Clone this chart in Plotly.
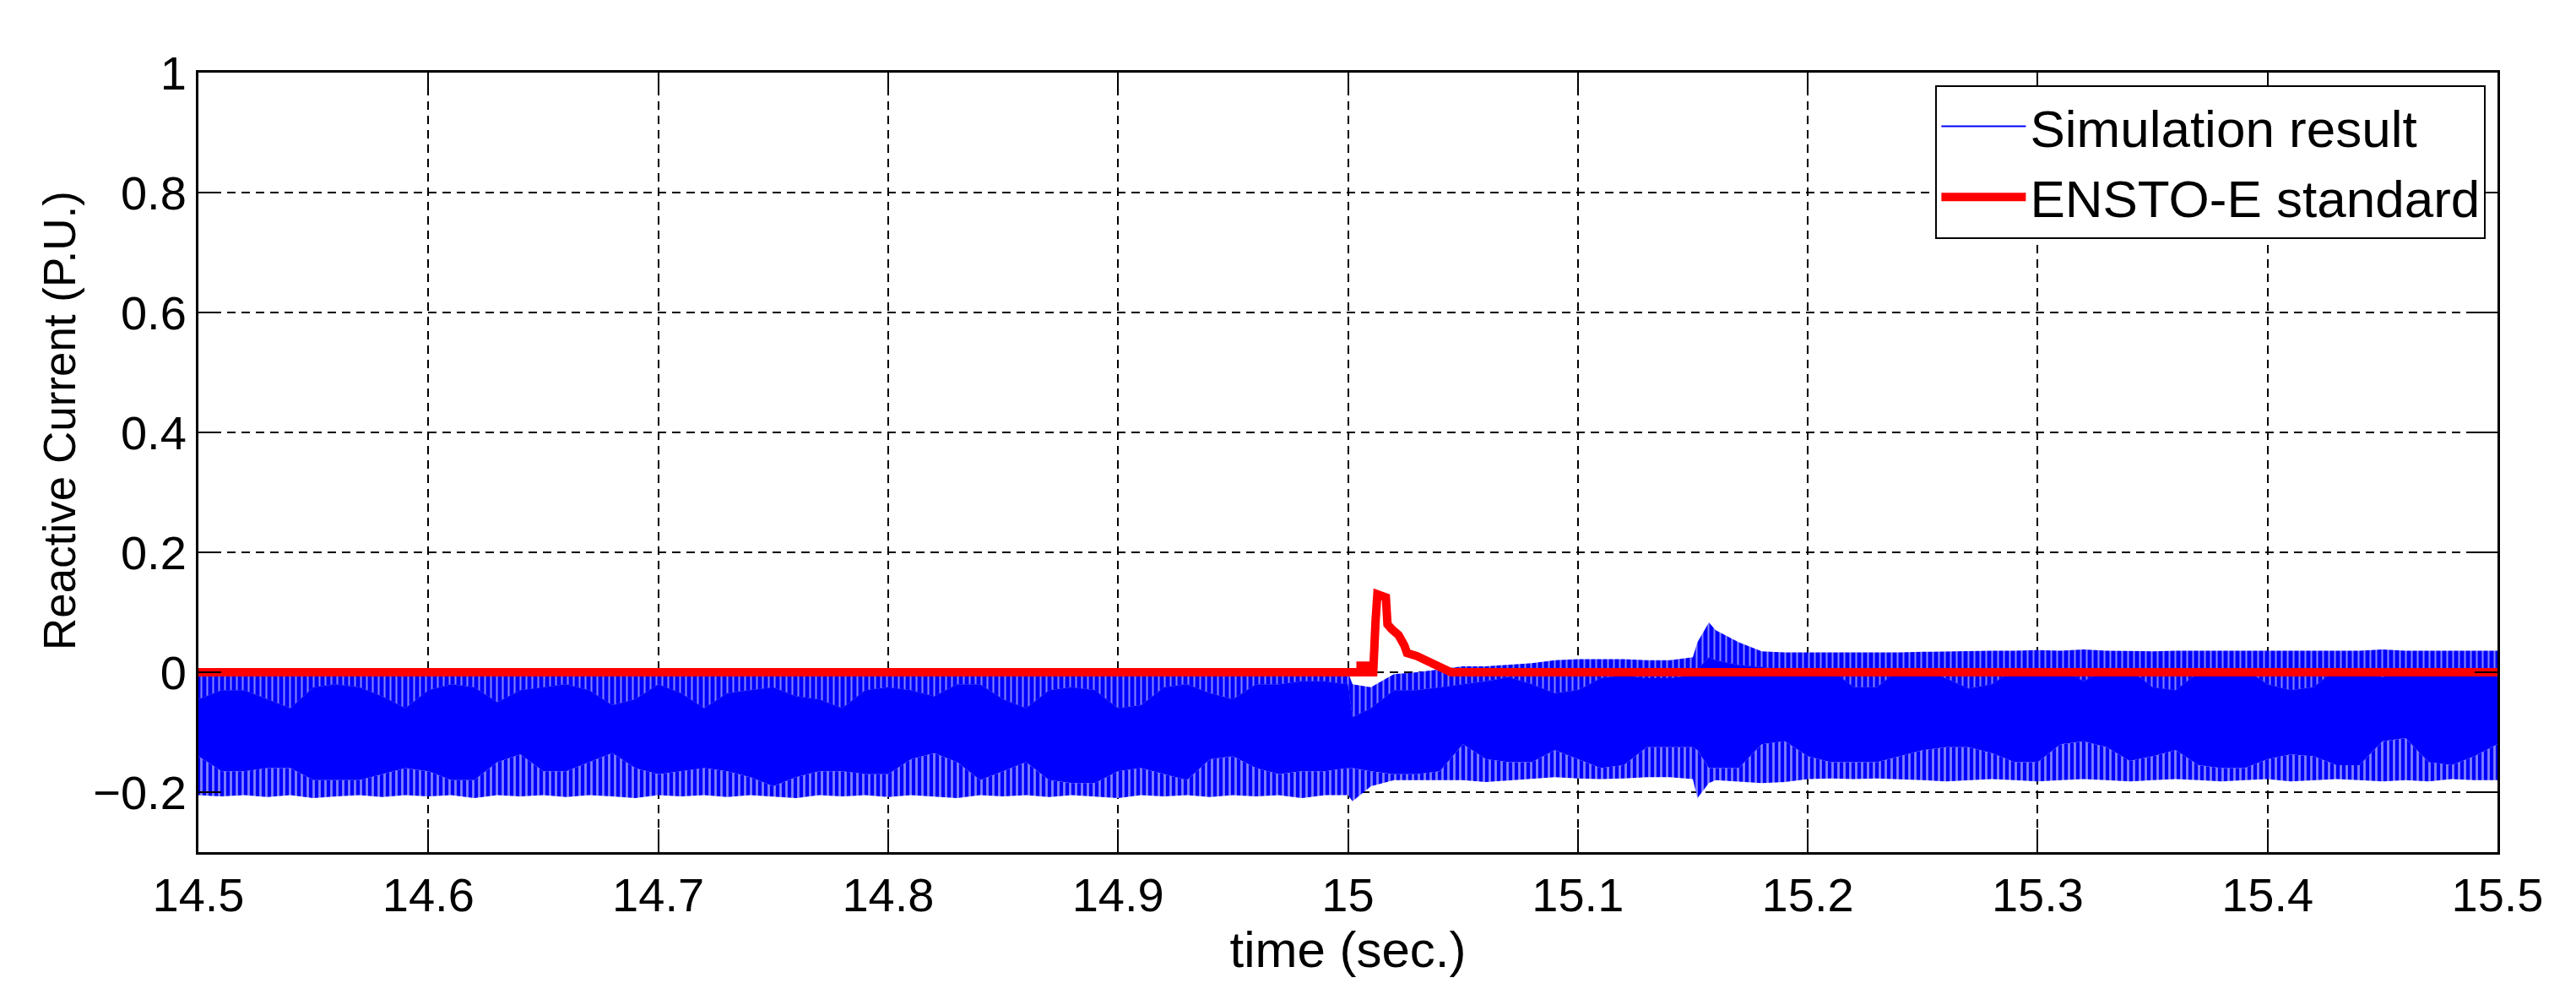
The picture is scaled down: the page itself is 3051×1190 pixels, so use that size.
import plotly.graph_objects as go

# ---- data ----
t = [14.50, 14.51, 14.52, 14.53, 14.54, 14.55, 14.56, 14.57, 14.58, 14.59,
     14.60, 14.61, 14.62, 14.63, 14.64, 14.65, 14.66, 14.67, 14.68, 14.69,
     14.70, 14.71, 14.72, 14.73, 14.74, 14.75, 14.76, 14.77, 14.78, 14.79,
     14.80, 14.81, 14.82, 14.83, 14.84, 14.85, 14.86, 14.87, 14.88, 14.89,
     14.90, 14.91, 14.92, 14.93, 14.94, 14.95, 14.96, 14.97, 14.98, 14.99,
     15.00, 15.002, 15.01, 15.02, 15.03, 15.04, 15.05, 15.06, 15.07, 15.08, 15.09,
     15.10, 15.11, 15.12, 15.13, 15.14, 15.15, 15.152, 15.157, 15.16, 15.17, 15.18, 15.19,
     15.20, 15.21, 15.22, 15.23, 15.24, 15.25, 15.26, 15.27, 15.28, 15.29,
     15.30, 15.31, 15.32, 15.33, 15.34, 15.35, 15.36, 15.37, 15.38, 15.39,
     15.40, 15.41, 15.42, 15.43, 15.44, 15.45, 15.46, 15.47, 15.48, 15.49,
     15.50]

# top of the blue trace (spike tips)
hi_outer = [0.0, 0.0, 0.0, 0.0, 0.0, 0.0, 0.0, 0.0, 0.0, 0.0,
            0.0, 0.0, 0.0, 0.0, 0.0, 0.0, 0.0, 0.0, 0.0, 0.0,
            0.0, 0.0, 0.0, 0.0, 0.0, 0.0, 0.0, 0.0, 0.0, 0.0,
            0.0, 0.0, 0.0, 0.0, 0.0, 0.0, 0.0, 0.0, 0.0, 0.0,
            0.0, 0.0, 0.0, 0.0, 0.0, 0.0, 0.0, 0.0, 0.0, 0.0,
            0.0, -0.02, -0.025, -0.003, 0.0, 0.005, 0.01, 0.01, 0.012, 0.015, 0.02,
            0.022, 0.022, 0.022, 0.02, 0.02, 0.025, 0.05, 0.083, 0.07, 0.05, 0.035, 0.033,
            0.033, 0.032, 0.033, 0.033, 0.033, 0.034, 0.035, 0.035, 0.036, 0.036,
            0.037, 0.036, 0.038, 0.036, 0.035, 0.035, 0.036, 0.036, 0.035, 0.036,
            0.036, 0.035, 0.036, 0.036, 0.036, 0.038, 0.036, 0.036, 0.036, 0.036,
            0.036]

# top edge of the solid part of the blue band
hi_inner = [-0.045, -0.03, -0.03, -0.045, -0.06, -0.025, -0.02, -0.025, -0.04, -0.06,
            -0.03, -0.02, -0.025, -0.05, -0.03, -0.025, -0.02, -0.03, -0.055, -0.045,
            -0.02, -0.035, -0.06, -0.035, -0.03, -0.025, -0.04, -0.045, -0.06, -0.03,
            -0.025, -0.03, -0.04, -0.02, -0.02, -0.045, -0.06, -0.03, -0.025, -0.03,
            -0.06, -0.055, -0.025, -0.02, -0.035, -0.045, -0.02, -0.02, -0.015, -0.015,
            -0.02, -0.075, -0.06, -0.03, -0.03, -0.025, -0.02, -0.015, -0.008, -0.02, -0.035,
            -0.03, -0.01, -0.005, -0.01, -0.01, -0.005, 0.005, 0.025, 0.02, 0.012, 0.008, 0.005,
            0.005, 0.005, -0.025, -0.025, 0.005, 0.005, -0.01, -0.027, -0.02, 0.005,
            0.006, 0.006, -0.015, 0.006, 0.005, -0.025, -0.03, 0.0, 0.006, 0.006,
            -0.02, -0.03, -0.025, 0.006, 0.006, -0.008, 0.006, 0.006, 0.006, 0.006,
            0.006]

# bottom edge of the solid part of the blue band
lo_inner = [-0.14, -0.165, -0.165, -0.16, -0.16, -0.18, -0.18, -0.18, -0.17, -0.16,
            -0.165, -0.18, -0.18, -0.15, -0.137, -0.165, -0.165, -0.15, -0.135, -0.16,
            -0.17, -0.165, -0.16, -0.165, -0.175, -0.19, -0.175, -0.165, -0.165, -0.17,
            -0.17, -0.145, -0.135, -0.15, -0.18, -0.165, -0.15, -0.18, -0.185, -0.185,
            -0.165, -0.16, -0.17, -0.18, -0.145, -0.14, -0.16, -0.17, -0.165, -0.165,
            -0.16, -0.16, -0.165, -0.17, -0.17, -0.165, -0.12, -0.145, -0.15, -0.15, -0.13,
            -0.145, -0.16, -0.155, -0.125, -0.125, -0.125, -0.13, -0.16, -0.16, -0.16, -0.12, -0.115,
            -0.14, -0.15, -0.15, -0.15, -0.14, -0.13, -0.125, -0.125, -0.135, -0.15,
            -0.15, -0.12, -0.115, -0.125, -0.148, -0.14, -0.13, -0.155, -0.16, -0.16,
            -0.145, -0.137, -0.14, -0.155, -0.155, -0.115, -0.11, -0.15, -0.155, -0.14,
            -0.12]

# bottom of the blue trace (spike tips)
lo_outer = [-0.205, -0.207, -0.205, -0.208, -0.205, -0.21, -0.207, -0.205, -0.208, -0.205,
            -0.207, -0.205, -0.21, -0.205, -0.207, -0.205, -0.208, -0.205, -0.207, -0.21,
            -0.205, -0.207, -0.205, -0.208, -0.205, -0.207, -0.21, -0.205, -0.207, -0.205,
            -0.208, -0.205, -0.207, -0.21, -0.205, -0.207, -0.205, -0.208, -0.205, -0.207,
            -0.21, -0.205, -0.207, -0.205, -0.208, -0.205, -0.207, -0.205, -0.21, -0.205,
            -0.205, -0.215, -0.19, -0.18, -0.18, -0.18, -0.18, -0.183, -0.18, -0.178, -0.175,
            -0.177, -0.178, -0.177, -0.175, -0.175, -0.178, -0.21, -0.185, -0.18, -0.182, -0.185, -0.183,
            -0.178, -0.177, -0.178, -0.177, -0.178, -0.18, -0.182, -0.18, -0.178, -0.18,
            -0.182, -0.18, -0.178, -0.18, -0.182, -0.18, -0.178, -0.18, -0.182, -0.18,
            -0.178, -0.182, -0.18, -0.178, -0.18, -0.182, -0.18, -0.182, -0.178, -0.18,
            -0.18]

# ENSTO-E standard (red)
red_t = [14.5, 15.0055, 15.0055, 15.0092, 15.0092, 15.011, 15.012, 15.0128, 15.0165,
         15.0172, 15.019, 15.022, 15.0245, 15.0257, 15.030, 15.0338, 15.0375, 15.040,
         15.0448, 15.5]
red_v = [0.0, 0.0, 0.011, 0.011, 0.0, 0.0, 0.085, 0.13, 0.125,
         0.08, 0.072, 0.062, 0.045, 0.032, 0.027, 0.02, 0.015, 0.008,
         0.0, 0.0]

x_ticks = [14.5, 14.6, 14.7, 14.8, 14.9, 15.0, 15.1, 15.2, 15.3, 15.4, 15.5]
x_labels = ["14.5", "14.6", "14.7", "14.8", "14.9", "15", "15.1", "15.2", "15.3", "15.4", "15.5"]
y_ticks = [-0.2, 0, 0.2, 0.4, 0.6, 0.8, 1]
y_labels = ["\u22120.2", "0", "0.2", "0.4", "0.6", "0.8", "1"]

BLUE = "#0000FF"
RED = "#FF0000"
FONT = "Liberation Sans, Arial, sans-serif"
FS = 56

fig = go.Figure()
fig.add_trace(go.Scatter(x=t, y=lo_outer, mode="lines", line=dict(width=0, color=BLUE),
                         showlegend=False, hoverinfo="skip"))
# lower comb zone: blue with thin white gaps
fig.add_trace(go.Scatter(x=t, y=lo_inner, mode="lines", line=dict(width=0, color=BLUE),
                         fill="tonexty", fillcolor=BLUE,
                         fillpattern=dict(shape="|", fgcolor="white", bgcolor=BLUE,
                                          size=7, solidity=0.4),
                         showlegend=False, hoverinfo="skip"))
# solid core
fig.add_trace(go.Scatter(x=t, y=hi_inner, mode="lines", line=dict(width=0.5, color=BLUE),
                         fill="tonexty", fillcolor=BLUE, showlegend=False, hoverinfo="skip"))
# upper comb zone
fig.add_trace(go.Scatter(x=t, y=hi_outer, mode="lines", line=dict(width=0, color=BLUE),
                         fill="tonexty", fillcolor=BLUE,
                         fillpattern=dict(shape="|", fgcolor="white", bgcolor=BLUE,
                                          size=7, solidity=0.3),
                         showlegend=False, hoverinfo="skip"))
fig.add_trace(go.Scatter(x=[None], y=[None], mode="lines", line=dict(color=BLUE, width=2),
                         name="Simulation result"))
fig.add_trace(go.Scatter(x=red_t, y=red_v, mode="lines", line=dict(color=RED, width=10),
                         name="ENSTO-E standard"))

axis_common = dict(
    showline=True, linecolor="black", linewidth=3, mirror="ticks",
    ticks="inside", ticklen=27, tickwidth=2, tickcolor="black",
    showgrid=True, gridcolor="black", gridwidth=2, griddash="10px,7px",
    zeroline=False, tickfont=dict(family=FONT, size=FS, color="black"),
)

fig.update_layout(
    width=3051, height=1190,
    margin=dict(l=227, r=101, t=78, b=189),
    paper_bgcolor="white", plot_bgcolor="white",
    font=dict(family=FONT, size=FS, color="black"),
    xaxis=dict(range=[14.5, 15.5], tickvals=x_ticks, ticktext=x_labels,
               title=dict(text="time (sec.)", font=dict(family=FONT, size=60), standoff=10),
               **axis_common),
    yaxis=dict(range=[-0.3, 1], tickvals=y_ticks, ticktext=y_labels, **axis_common),
    legend=dict(x=0.995, xanchor="right", y=0.984, yanchor="top", traceorder="normal",
                bgcolor="white", bordercolor="black", borderwidth=2,
                font=dict(family=FONT, size=62, color="black"), itemwidth=100),
    showlegend=True,
    annotations=[dict(text="Reactive Current (P.U.)", textangle=-90,
                      xref="paper", yref="paper", x=0, y=0.5536,
                      xanchor="center", yanchor="middle", xshift=-165,
                      showarrow=False, font=dict(family=FONT, size=53, color="black"))],
)

fig.write_html("out.html")
